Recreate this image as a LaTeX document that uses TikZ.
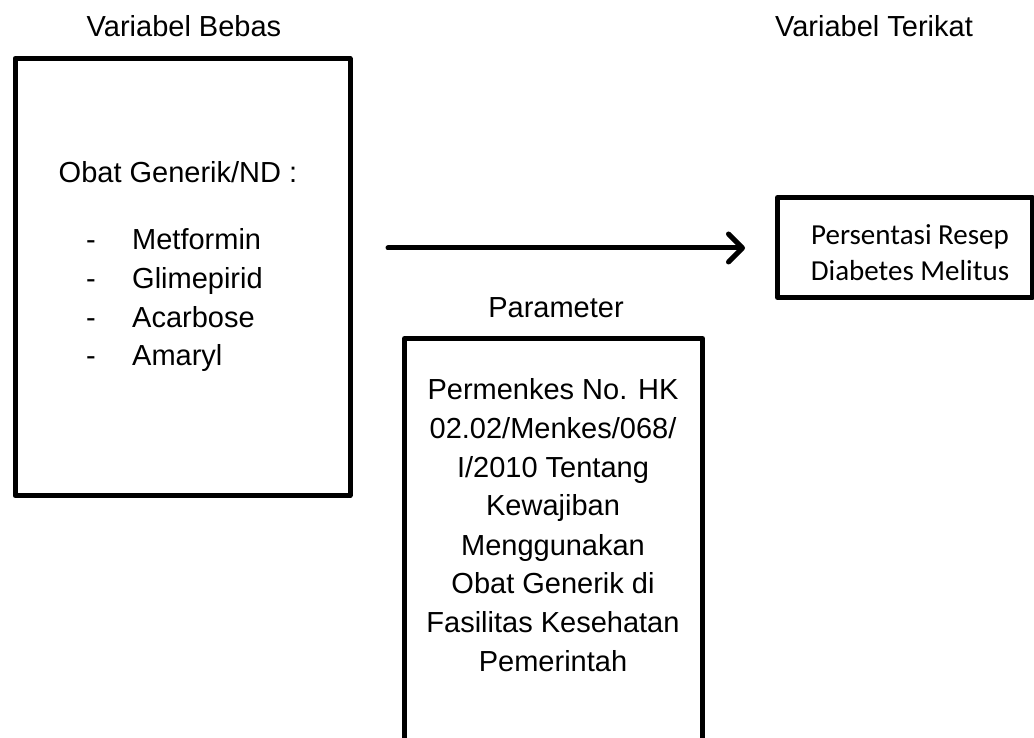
\documentclass[tikz,border=0pt]{standalone}
\usepackage{fontspec}
\setmainfont{Liberation Sans}
\newfontfamily\carlfont{Carlito}
\usetikzlibrary{arrows.meta}
\tikzset{
  box/.style={draw=black, line width=5pt, line join=round, fill=none, inner sep=0pt},
  lbl/.style={font=\fontsize{29}{35}\selectfont, inner sep=0pt, anchor=base},
  lblw/.style={font=\fontsize{29}{35}\selectfont, inner sep=0pt, anchor=base west},
  clbl/.style={font=\carlfont\fontsize{29}{35}\selectfont, inner sep=0pt, anchor=base},
  conn/.style={line width=5pt, line cap=round, -{Straight Barb[length=14pt,width=28pt,line cap=round,line join=round]}}
}
\begin{document}
\begin{tikzpicture}[x=1pt,y=-1pt]
\useasboundingbox (0,0) rectangle (1034,738);
% headers
\node[lbl] (hb) at (184,37) {Variabel Bebas};
\node[lbl] (ht) at (874,37) {Variabel Terikat};
\node[lbl] (hp) at (556,317) {Parameter};
% left box
\node[box, minimum width=335pt, minimum height=437pt] (lb) at (182.5,277) {};
\node[lbl] (og) at (178,183) {Obat Generik/ND :};
\node[lbl] (d1) at (91,250) {-};
\node[lbl] (d2) at (91,288) {-};
\node[lbl] (d3) at (91,327) {-};
\node[lbl] (d4) at (91,365) {-};
\node[lblw] (i1) at (132,250) {Metformin};
\node[lblw] (i2) at (132,288) {Glimepirid};
\node[lblw] (i3) at (132,327) {Acarbose};
\node[lblw] (i4) at (132,365) {Amaryl};
% right box
\node[box, minimum width=254.5pt, minimum height=100pt] (rb) at (904.75,247.5) {};
\node[clbl] (r1) at (910,245) {Persentasi Resep};
\node[clbl] (r2) at (910,280) {Diabetes Melitus};
% parameter box
\node[box, minimum width=298pt, minimum height=421.5pt] (pb) at (553.5,549.25) {};
\node[lbl] (p1) at (553,399) {Permenkes No. HK};
\node[lbl] (p2) at (553,438) {02.02/Menkes/068/};
\node[lbl] (p3) at (553,477) {I/2010 Tentang};
\node[lbl] (p4) at (553,515) {Kewajiban};
\node[lbl] (p5) at (553,555) {Menggunakan};
\node[lbl] (p6) at (553,593) {Obat Generik di};
\node[lbl] (p7) at (553,632) {Fasilitas Kesehatan};
\node[lbl] (p8) at (553,671) {Pemerintah};
% arrow
\coordinate (a1) at (388,248);
\coordinate (a2) at (745,248);
\draw[conn] (a1) -- (a2);
\end{tikzpicture}
\end{document}
